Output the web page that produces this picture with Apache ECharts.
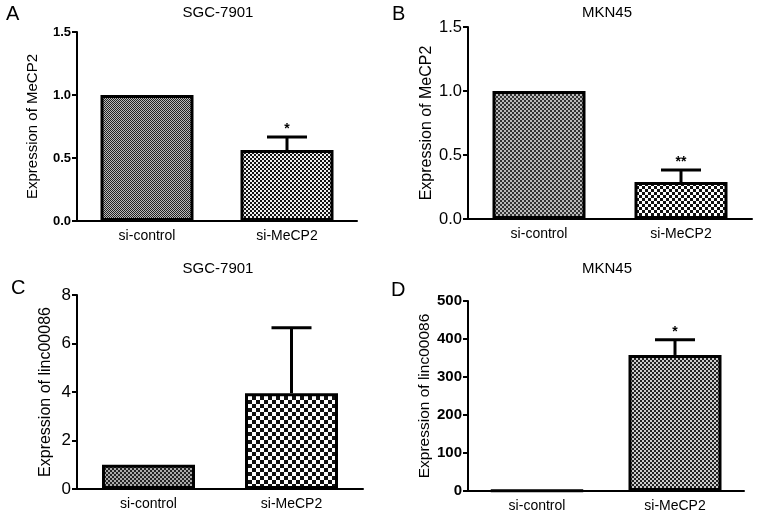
<!DOCTYPE html>
<html><head><meta charset="utf-8">
<script src="https://cdn.jsdelivr.net/npm/echarts@6/dist/echarts.min.js"></script>
<style>html,body{margin:0;padding:0;background:#fff}#c{width:765px;height:517px}</style>
</head><body><div id="c"></div>
<script>
const categories = ['si-control', 'si-MeCP2'];
const panelTitles = ['SGC-7901', 'MKN45', 'SGC-7901', 'MKN45'];
const panelLetters = ['A', 'B', 'C', 'D'];
const yNames = ['Expression of MeCP2', 'Expression of MeCP2', 'Expression of linc00086', 'Expression of linc00086'];
const aValues = [1.0, 0.563];
const aErr = [null, 0.667];
const aSig = ['', '*'];
const bValues = [1.0, 0.289];
const bErr = [null, 0.383];
const bSig = ['', '**'];
const cValues = [1.0, 3.95];
const cErr = [null, 6.65];
const cSig = ['', ''];
const dValues = [1.5, 358];
const dErr = [null, 398];
const dSig = ['', '*'];
const yMax = [1.5, 1.5, 8, 500];
const yInterval = [0.5, 0.5, 2, 100];

function checker(size, fg, bg) {
  const c = document.createElement('canvas');
  c.width = size * 2; c.height = size * 2;
  const g = c.getContext('2d');
  g.fillStyle = bg; g.fillRect(0, 0, size * 2, size * 2);
  g.fillStyle = fg; g.fillRect(0, 0, size, size); g.fillRect(size, size, size, size);
  return { image: c, repeat: 'repeat' };
}
const patterns = [
  [checker(1, '#222', '#bbb'), checker(2, '#111', '#eee')],
  [checker(2, '#333', '#bbb'), checker(3, '#111', '#fff')],
  [checker(2, '#222', '#aaa'), checker(4, '#111', '#fff')],
  [checker(2, '#222', '#ccc'), checker(2, '#222', '#ccc')]
];

const values = [aValues, bValues, cValues, dValues];
const errs = [aErr, bErr, cErr, dErr];
const sigs = [aSig, bSig, cSig, dSig];
const grids = [
  { left: 77, top: 32, width: 280, height: 189 },
  { left: 468, top: 27, width: 284, height: 192 },
  { left: 77, top: 295, width: 286, height: 194 },
  { left: 468, top: 301, width: 276, height: 190 }
];
const nameGaps = [37, 33, 23, 35];
const nameSizes = [15, 16, 16, 15.5];
const tickSizes = [13, 16.5, 17, 15];
const boldTicks = [true, false, false, true];
const titlePos = [[218, 5], [607, 5], [218, 261], [607, 261]];
const letterPos = [[6, 4], [392, 4], [11, 278], [391, 280]];
const FONT = '"Liberation Sans", Arial, sans-serif';

const xAxis = [], yAxis = [], series = [], graphic = [];
for (let k = 0; k < 4; k++) {
  xAxis.push({
    type: 'category', gridIndex: k, data: categories,
    axisLine: { lineStyle: { color: '#000', width: 2 } },
    axisTick: { alignWithLabel: true, length: 5, lineStyle: { color: '#000', width: 2 } },
    axisLabel: { color: '#000', fontSize: 14, fontFamily: FONT, margin: 8 }
  });
  yAxis.push({
    type: 'value', gridIndex: k, min: 0, max: yMax[k], interval: yInterval[k],
    name: yNames[k], nameLocation: 'middle', nameRotate: 90, nameGap: nameGaps[k],
    nameTextStyle: { color: '#000', fontSize: nameSizes[k], fontFamily: FONT },
    axisLine: { show: true, lineStyle: { color: '#000', width: 2 } },
    axisTick: { show: true, length: 5, lineStyle: { color: '#000', width: 2 } },
    splitLine: { show: false },
    axisLabel: {
      color: '#000', fontSize: tickSizes[k], fontFamily: FONT, margin: 6,
      fontWeight: boldTicks[k] ? 'bold' : 'normal',
      formatter: k < 2 ? (v => v.toFixed(1)) : (v => String(v))
    }
  });
  series.push({
    type: 'bar', xAxisIndex: k, yAxisIndex: k, barWidth: 93,
    data: values[k].map((v, i) => ({ value: v, itemStyle: { color: patterns[k][i] } })),
    itemStyle: { borderColor: '#000', borderWidth: 3 },
    z: 2
  });
  series.push({
    type: 'custom', xAxisIndex: k, yAxisIndex: k, z: 1,
    data: values[k].map((v, i) => [i, v, errs[k][i], sigs[k][i]]),
    renderItem: function (params, api) {
      const e = api.value(2);
      if (e === null || e === undefined || e === '' || isNaN(e)) return;
      const i = api.value(0);
      const p0 = api.coord([i, api.value(1)]);
      const p1 = api.coord([i, e]);
      const sig = sigs[k][params.dataIndex];
      const children = [
        { type: 'line', shape: { x1: p0[0], y1: p0[1], x2: p1[0], y2: p1[1] }, style: { stroke: '#000', lineWidth: 3 } },
        { type: 'line', shape: { x1: p1[0] - 20, y1: p1[1], x2: p1[0] + 20, y2: p1[1] }, style: { stroke: '#000', lineWidth: 3 } }
      ];
      if (sig) children.push({ type: 'text', x: p1[0], y: p1[1] - 1, style: { text: sig, fill: '#000', font: 'bold 14px ' + FONT, align: 'center', verticalAlign: 'bottom' } });
      return { type: 'group', children: children };
    }
  });
  graphic.push({ type: 'text', x: titlePos[k][0], y: titlePos[k][1], style: { text: panelTitles[k], fill: '#000', font: '15px ' + FONT, align: 'center' } });
  graphic.push({ type: 'text', x: letterPos[k][0], y: letterPos[k][1], style: { text: panelLetters[k], fill: '#000', font: '20px ' + FONT } });
}

const chart = echarts.init(document.getElementById('c'), null, { renderer: 'canvas' });
chart.setOption({
  animation: false,
  backgroundColor: '#fff',
  grid: grids,
  xAxis: xAxis, yAxis: yAxis, series: series, graphic: graphic
});
</script></body></html>
